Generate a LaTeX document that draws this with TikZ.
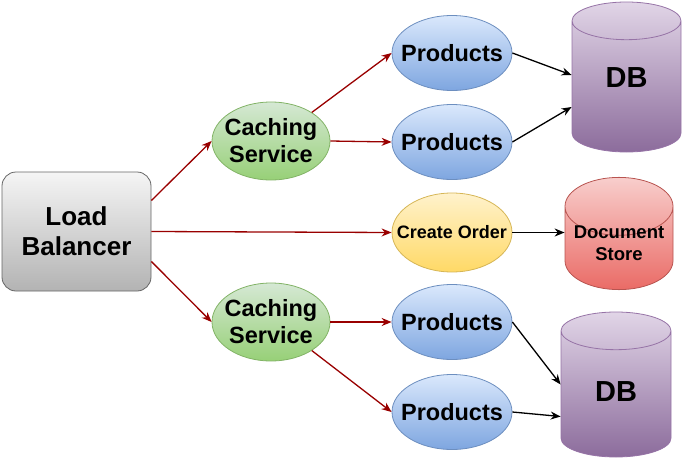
\documentclass[tikz,border=0pt]{standalone}
\usepackage{fontspec}
\setmainfont{Liberation Sans}
\usetikzlibrary{shapes.geometric,arrows.meta}
\definecolor{lbtop}{HTML}{F5F5F5}
\definecolor{lbbot}{HTML}{B3B3B3}
\definecolor{lbline}{HTML}{666666}
\definecolor{grtop}{HTML}{D5E8D4}
\definecolor{grbot}{HTML}{97D077}
\definecolor{grline}{HTML}{82B366}
\definecolor{bltop}{HTML}{DAE8FC}
\definecolor{blbot}{HTML}{7EA6E0}
\definecolor{blline}{HTML}{6C8EBF}
\definecolor{yetop}{HTML}{FFF2CC}
\definecolor{yebot}{HTML}{FFD966}
\definecolor{yeline}{HTML}{D6B656}
\definecolor{retop}{HTML}{F8CECC}
\definecolor{rebot}{HTML}{EA6B66}
\definecolor{reline}{HTML}{B85450}
\definecolor{putop}{HTML}{E1D5E7}
\definecolor{pubot}{HTML}{8C6C9C}
\definecolor{puline}{HTML}{9673A6}
\definecolor{darkred}{HTML}{990000}
\begin{document}
\begin{tikzpicture}
		[x=1pt,y=-1pt,
		balancer/.style={rectangle,rounded corners=14pt,draw=lbline,line width=0.8pt,
top color=lbtop,bottom color=lbbot,inner sep=0pt,minimum width=149pt,minimum height=119pt,
align=center,font=\bfseries\fontsize{26}{30}\selectfont},
		service/.style={ellipse,draw=grline,line width=0.8pt,top color=grtop,bottom color=grbot,
inner xsep=-40pt,inner ysep=-10pt,minimum width=118pt,minimum height=78pt,align=center,
font=\bfseries\fontsize{23.5}{27}\selectfont},
		product/.style={ellipse,draw=blline,line width=0.8pt,top color=bltop,bottom color=blbot,
inner xsep=-40pt,inner ysep=-10pt,minimum width=120pt,minimum height=75pt,
font=\bfseries\fontsize{23.5}{27}\selectfont},
		order/.style={ellipse,draw=yeline,line width=0.8pt,top color=yetop,bottom color=yebot,
inner xsep=-40pt,inner ysep=-10pt,minimum width=120pt,minimum height=79pt,
font=\bfseries\fontsize{18}{22}\selectfont},
		database/.style={cylinder,shape border rotate=90,anchor=shape center,draw=puline,
line width=0.8pt,top color=putop,bottom color=pubot,inner sep=0pt,aspect=0.9,
font=\bfseries\fontsize{29}{33}\selectfont},
		docstore/.style={cylinder,shape border rotate=90,anchor=shape center,draw=reline,
line width=0.8pt,top color=retop,bottom color=rebot,inner sep=0pt,aspect=0.64,align=center,
text height=25pt,text depth=-2pt,
minimum width=108pt,minimum height=107pt,font=\bfseries\fontsize{18.5}{22}\selectfont},
		edgered/.style={-{Stealth[length=10pt,width=8pt]},draw=darkred,line width=1.3pt},
		edgeblack/.style={-{Stealth[length=10pt,width=8pt]},draw=black,line width=1.3pt}]
		\useasboundingbox (0,0) rectangle (683,463);
		\node at (76.5, 231.5) (lb) [balancer] {Load\\Balancer};
		\node at (271, 141) (cache1) [service] {Caching\\Service};
		\node at (271, 322) (cache2) [service] {Caching\\Service};
		\node at (452, 53) (prod1) [product] {Products};
		\node at (452, 142) (prod2) [product] {Products};
		\node at (452, 232.5) (order) [order] {Create Order};
		\node at (452, 322) (prod3) [product] {Products};
		\node at (452, 412) (prod4) [product] {Products};
		\node at (626.5, 77) (db1) [database,minimum width=109pt,minimum height=150pt,
text depth=18pt] {DB};
		\node at (619, 233.5) (docs) [docstore] {Document\\Store};
		\node at (616, 384.5) (db2) [database,minimum width=110pt,minimum height=145pt,
text depth=6pt] {DB};
		\coordinate (db1w) at (db1.shape center -| db1.west);
		\coordinate (db2w) at (db2.shape center -| db2.west);
		% load balancer
		\draw[edgered] ([yshift=31pt]lb.east) -- (cache1.west);
		\draw[edgered] (lb.east) -- (order.west);
		\draw[edgered] ([yshift=-30pt]lb.east) -- (cache2.west);
		% caching services
		\draw[edgered] (cache1.35) -- (prod1.west);
		\draw[edgered] (cache1.east) -- (prod2.west);
		\draw[edgered] (cache2.east) -- (prod3.west);
		\draw[edgered] (cache2.-35) -- (prod4.west);
		% stores
		\draw[edgeblack] (prod1.east) -- ([yshift=2pt]db1w);
		\draw[edgeblack] (prod2.east) -- ([yshift=-30pt]db1w);
		\draw[edgeblack] (order.east) -- (order.east -| docs.west);
		\draw[edgeblack] (prod3.east) -- (db2w);
		\draw[edgeblack] (prod4.east) -- ([yshift=-32pt]db2w);
	\end{tikzpicture}
\end{document}
